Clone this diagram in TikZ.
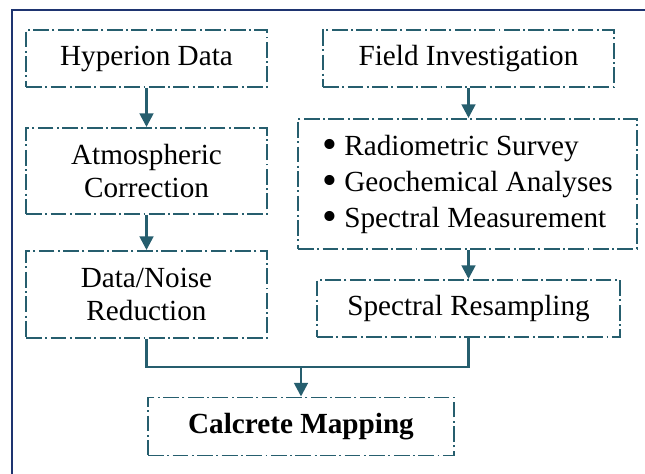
\documentclass[tikz,border=0pt]{standalone}
\usepackage{fontspec}
\setmainfont{Liberation Serif}
\usetikzlibrary{arrows.meta}
\definecolor{framenavy}{RGB}{30,52,112}
\definecolor{boxteal}{RGB}{38,94,110}
\newcommand{\bigbul}{\raisebox{-0.13em}[0pt][0pt]{\scalebox{1.45}{\textbullet}}\ }

\begin{document}
\begin{tikzpicture}[x=0.411pt,y=-0.411pt,>={Triangle[length=5.6pt,width=5.6pt]},
  link/.style={draw=boxteal,line width=1.1pt},
  dd box/.style={draw=boxteal,line width=0.8pt,
    dash pattern=on 6.5pt off 1.4pt on 0.8pt off 1.4pt,
    inner sep=0pt,align=center,font=\fontsize{12}{13.6}\selectfont},
  box size/.style 2 args={minimum width=#1*0.411pt,minimum height=#2*0.411pt}]

  \clip (0,0) rectangle (645,474);
  \draw[framenavy,line width=1pt] (12,10) rectangle (700,520);

  % left column
  \node[dd box,box size={241}{57}] (hyp) at (146.5,58.5) {Hyperion Data};
  \node[dd box,box size={241}{86}] (atm) at (146.5,171) {Atmospheric\\Correction};
  \node[dd box,box size={241}{87}] (noise) at (146.5,294.5) {Data/Noise\\Reduction};

  % right column
  \node[dd box,box size={291}{57}] (field) at (468.5,58.5) {Field Investigation};
  \node[dd box,box size={339}{130},align=left,font=\fontsize{12}{14.8}\selectfont]
    (survey) at (467.5,184)
    {\bigbul Radiometric Survey\\\bigbul Geochemical Analyses\\\bigbul Spectral Measurement};
  \node[dd box,box size={303}{57}] (resamp) at (468.5,308.5) {Spectral Resampling};

  \node[dd box,box size={306}{58},font=\fontsize{12}{13.6}\selectfont\bfseries]
    (calc) at (301,426.5) {Calcrete Mapping};

  \coordinate (join) at (calc.north |- 0,367);

  \draw[link,->] (hyp) -- (atm);
  \draw[link,->] (atm) -- (noise);
  \draw[link,->] (field.south) -- (field.south |- survey.north);
  \draw[link,->] (resamp.north |- survey.south) -- (resamp.north);
  \draw[link] (noise.south) |- (join) -| (resamp.south);
  \draw[link,->] (join) -- (calc.north);
\end{tikzpicture}
\end{document}
